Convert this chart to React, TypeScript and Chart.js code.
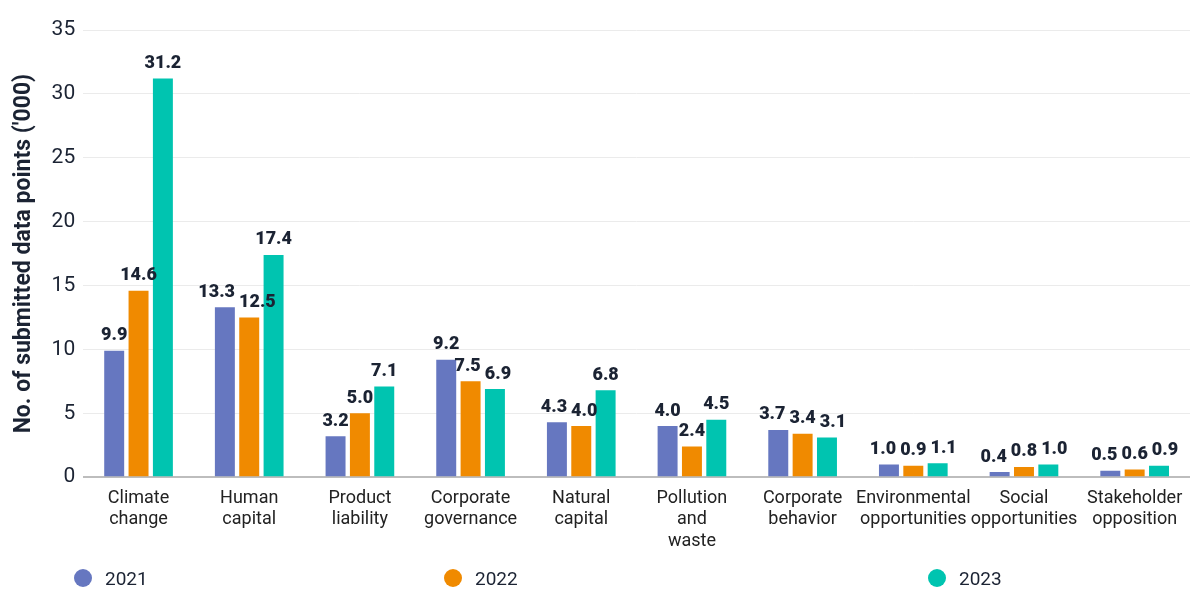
import React, { useEffect, useRef } from 'react';
import { Chart, registerables } from 'chart.js';

Chart.register(...registerables);

const categories: string[][] = [
  ['Climate', 'change'],
  ['Human', 'capital'],
  ['Product', 'liability'],
  ['Corporate', 'governance'],
  ['Natural', 'capital'],
  ['Pollution', 'and', 'waste'],
  ['Corporate', 'behavior'],
  ['Environmental', 'opportunities'],
  ['Social', 'opportunities'],
  ['Stakeholder', 'opposition'],
];

const seriesNames = ['2021', '2022', '2023'];
const values2021 = [9.9, 13.3, 3.2, 9.2, 4.3, 4.0, 3.7, 1.0, 0.4, 0.5];
const values2022 = [14.6, 12.5, 5.0, 7.5, 4.0, 2.4, 3.4, 0.9, 0.8, 0.6];
const values2023 = [31.2, 17.4, 7.1, 6.9, 6.8, 4.5, 3.1, 1.1, 1.0, 0.9];
const seriesColors = ['#6677c0', '#f08a00', '#00c4b0'];

const yTitle = "No. of submitted data points ('000)";
const textColor = '#1b2333';
const fontFamily = 'Roboto, "Noto Sans", sans-serif';

// draws the value over each bar, nudging neighbours apart when they collide
const barValues = {
  id: 'barValues',
  afterDatasetsDraw(chart: Chart) {
    const { ctx } = chart;
    ctx.save();
    ctx.font = `900 18px ${fontFamily}`;
    ctx.fillStyle = textColor;
    ctx.textAlign = 'center';
    ctx.textBaseline = 'bottom';
    const n = chart.data.labels?.length ?? 0;
    const lineH = 18;
    for (let j = 0; j < n; j++) {
      const items = chart.data.datasets.map((ds, i) => {
        const bar: any = chart.getDatasetMeta(i).data[j];
        const text = (ds.data[j] as number).toFixed(1);
        return { text, x: bar.x, y: bar.y - 6, w: ctx.measureText(text).width };
      });
      for (let pass = 0; pass < 6; pass++) {
        for (let k = 0; k < items.length - 1; k++) {
          const a = items[k];
          const b = items[k + 1];
          if (Math.abs(a.y - b.y) >= lineH) continue;
          const gap = 4;
          const overlap = a.x + a.w / 2 + gap - (b.x - b.w / 2);
          if (overlap > 0) {
            a.x -= overlap / 2;
            b.x += overlap / 2;
          }
        }
      }
      items.forEach((it) => ctx.fillText(it.text, it.x, it.y));
    }
    ctx.restore();
  },
};

const App = () => {
  const chartRef = useRef<HTMLCanvasElement | null>(null);

  useEffect(() => {
    document.body.style.margin = '0';
    const ctx = chartRef.current?.getContext('2d');
    if (!ctx) return;
    const all = [values2021, values2022, values2023];
    const chart = new Chart(ctx, {
      type: 'bar',
      data: {
        labels: categories,
        datasets: all.map((d, i) => ({
          label: seriesNames[i],
          data: d,
          backgroundColor: seriesColors[i],
          categoryPercentage: 0.66,
          barPercentage: 0.82,
        })),
      },
      options: {
        responsive: false,
        animation: false,
        layout: { padding: { top: 30, right: 10, left: 10, bottom: 4 } },
        plugins: {
          legend: { display: false },
          tooltip: { enabled: false },
        },
        scales: {
          x: {
            grid: { display: false },
            border: { display: false },
            ticks: {
              color: '#222',
              font: { family: fontFamily, size: 18 },
              maxRotation: 0,
              autoSkip: false,
              padding: 2,
            },
          },
          y: {
            min: 0,
            max: 35,
            border: { display: false },
            grid: {
              drawTicks: false,
              color: (c: any) => (c.tick && c.tick.value === 0 ? '#bdbdbd' : '#ebebeb'),
              lineWidth: (c: any) => (c.tick && c.tick.value === 0 ? 2 : 1),
            },
            ticks: {
              stepSize: 5,
              color: textColor,
              font: { family: fontFamily, size: 21 },
              padding: 8,
            },
            title: {
              display: true,
              text: yTitle,
              color: textColor,
              font: { family: fontFamily, size: 23, weight: 'bold' },
              padding: { top: 0, bottom: 6 },
            },
          },
        },
      },
      plugins: [barValues],
    });
    return () => chart.destroy();
  }, []);

  return (
    <div style={{ position: 'relative', width: 1200, height: 600, fontFamily, background: '#fff' }}>
      <canvas ref={chartRef} width={1200} height={558} style={{ display: 'block' }} />
      <div
        style={{
          position: 'absolute',
          left: 0,
          top: 556,
          height: 44,
          display: 'flex',
          alignItems: 'center',
          paddingLeft: 74,
        }}
      >
        {seriesNames.map((name, i) => (
          <div
            key={name}
            style={{
              display: 'flex',
              alignItems: 'center',
              width: i === 0 ? 370 : i === 1 ? 484 : 'auto',
              fontSize: 19,
              color: textColor,
            }}
          >
            <span
              style={{
                display: 'inline-block',
                width: 18,
                height: 18,
                borderRadius: '50%',
                background: seriesColors[i],
                marginRight: 13,
              }}
            />
            {name}
          </div>
        ))}
      </div>
    </div>
  );
};

export default App;
